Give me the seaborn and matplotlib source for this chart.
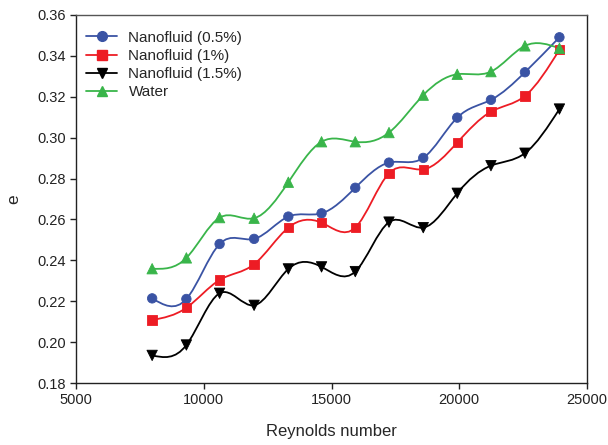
import numpy as np
import pandas as pd
import matplotlib
matplotlib.use("Agg")
import matplotlib.pyplot as plt
from matplotlib.path import Path
from matplotlib.patches import PathPatch
from matplotlib.lines import Line2D
import seaborn as sns

# Reynolds numbers of the test runs
reynolds = [7980, 9320, 10620, 11970, 13310, 14610, 15930,
            17250, 18590, 19920, 21240, 22570, 23920]

# effectiveness e for each working fluid
e_nano_05 = [0.2214, 0.2211, 0.2480, 0.2505, 0.2614, 0.2630, 0.2755,
             0.2878, 0.2901, 0.3098, 0.3185, 0.3320, 0.3491]
e_nano_1 = [0.2108, 0.2168, 0.2304, 0.2381, 0.2560, 0.2584, 0.2560,
            0.2826, 0.2845, 0.2976, 0.3127, 0.3204, 0.3430]
e_nano_15 = [0.1935, 0.1986, 0.2239, 0.2180, 0.2358, 0.2368, 0.2345,
             0.2587, 0.2560, 0.2728, 0.2863, 0.2924, 0.3140]
e_water = [0.2359, 0.2412, 0.2609, 0.2606, 0.2782, 0.2980, 0.2980,
           0.3025, 0.3208, 0.3310, 0.3323, 0.3449, 0.3437]

labels = ["Nanofluid (0.5%)", "Nanofluid (1%)", "Nanofluid (1.5%)", "Water"]
series = [e_nano_05, e_nano_1, e_nano_15, e_water]
colors = ["#3A53A4", "#ED1C24", "#000000", "#39B54A"]
markers = ["o", "s", "v", "^"]
msizes = [46, 46, 56, 56]

df = pd.concat(
    [pd.DataFrame({"Reynolds number": reynolds, "e": vals, "fluid": lab})
     for lab, vals in zip(labels, series)],
    ignore_index=True,
)

sns.set_theme(style="ticks")
plt.rcParams["font.family"] = ["Liberation Sans", "DejaVu Sans"]
plt.rcParams["axes.linewidth"] = 1.0


def spline_path(x, y):
    """Natural cubic spline through (x, y), expressed as cubic Bezier segments."""
    x = np.asarray(x, float)
    y = np.asarray(y, float)
    n = len(x)
    h = np.diff(x)
    A = np.zeros((n, n))
    b = np.zeros(n)
    A[0, 0] = A[-1, -1] = 1.0
    for i in range(1, n - 1):
        A[i, i - 1] = h[i - 1]
        A[i, i] = 2 * (h[i - 1] + h[i])
        A[i, i + 1] = h[i]
        b[i] = 6 * ((y[i + 1] - y[i]) / h[i] - (y[i] - y[i - 1]) / h[i - 1])
    M = np.linalg.solve(A, b)
    slope = np.zeros(n)
    for i in range(n - 1):
        slope[i] = (y[i + 1] - y[i]) / h[i] - h[i] * (2 * M[i] + M[i + 1]) / 6
    slope[-1] = (y[-1] - y[-2]) / h[-1] + h[-1] * (M[-2] + 2 * M[-1]) / 6
    verts = [(x[0], y[0])]
    codes = [Path.MOVETO]
    for i in range(n - 1):
        verts += [
            (x[i] + h[i] / 3, y[i] + h[i] * slope[i] / 3),
            (x[i + 1] - h[i] / 3, y[i + 1] - h[i] * slope[i + 1] / 3),
            (x[i + 1], y[i + 1]),
        ]
        codes += [Path.CURVE4] * 3
    return Path(verts, codes)


fig = plt.figure(figsize=(6.08, 4.45), dpi=100)
ax = fig.add_axes([0.125, 0.1393, 0.8405, 0.827])

for lab, vals, col in zip(labels, series, colors):
    ax.add_patch(PathPatch(spline_path(reynolds, vals), facecolor="none",
                           edgecolor=col, lw=1.3, zorder=2))

sns.scatterplot(data=df, x="Reynolds number", y="e", hue="fluid", style="fluid",
                palette=dict(zip(labels, colors)),
                markers=dict(zip(labels, markers)),
                size="fluid", sizes=dict(zip(labels, msizes)),
                linewidth=0.6, edgecolor=None, legend=False, ax=ax, zorder=3)

ax.set_xlim(5000, 25000)
ax.set_ylim(0.18, 0.36)
ax.set_xticks([5000, 10000, 15000, 20000, 25000])
ax.set_yticks(np.arange(0.18, 0.3601, 0.02))
ax.set_yticklabels([f"{v:.2f}" for v in np.arange(0.18, 0.3601, 0.02)])
ax.tick_params(direction="out", length=4, width=1, labelsize=10.5,
               top=False, right=False, colors="#222222")
ax.set_xlabel("Reynolds number", fontsize=12, labelpad=12)
ax.set_ylabel("e", fontsize=12.5, labelpad=11)
for side in ["top", "right", "bottom", "left"]:
    ax.spines[side].set_visible(True)
    ax.spines[side].set_color("#222222")
ax.spines["top"].set_color("#555555")

handles = [Line2D([], [], color=c, marker=m, lw=1.3, markersize=7 if m in "os" else 7.5,
                  markeredgecolor=c)
           for c, m in zip(colors, markers)]
ax.legend(handles, labels, loc="upper left", frameon=False, fontsize=11,
          handlelength=2.0, handletextpad=0.75, labelspacing=0.28,
          borderaxespad=0.62, bbox_to_anchor=(-0.01, 1.0))

fig.savefig("out.png", dpi=100)
